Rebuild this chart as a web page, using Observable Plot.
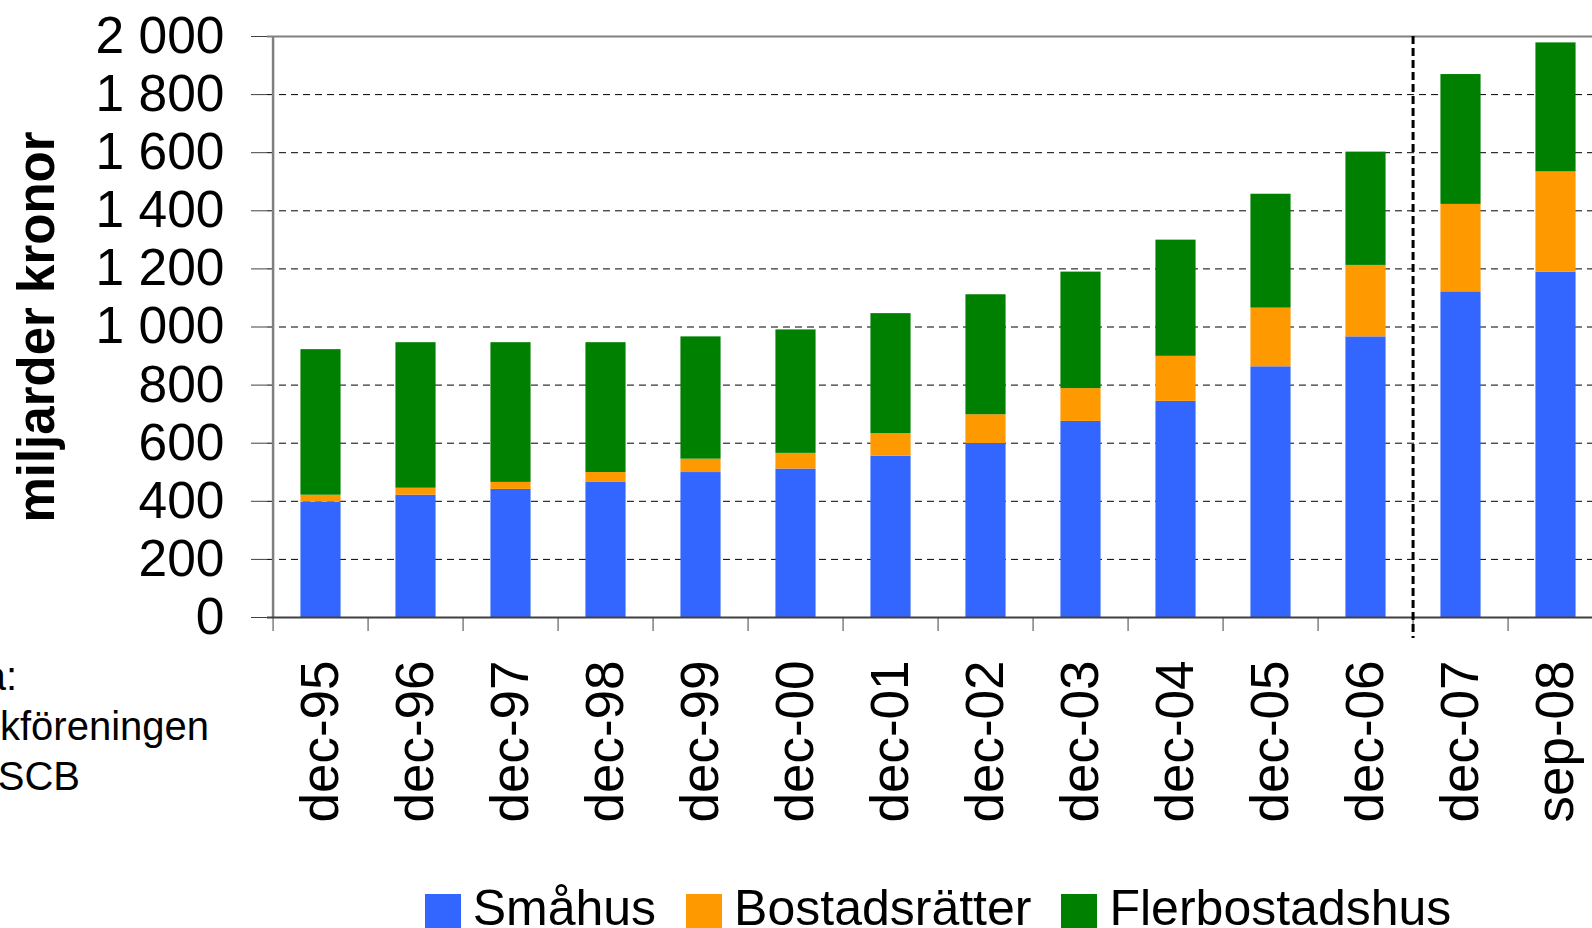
<!DOCTYPE html>
<html>
<head>
<meta charset="utf-8">
<script src="https://cdn.jsdelivr.net/npm/d3@7"></script>
<script src="https://cdn.jsdelivr.net/npm/@observablehq/plot@0.6"></script>
<style>
  html, body { margin: 0; padding: 0; background: #fff; overflow: hidden; width: 1592px; height: 928px; }
  body { font-family: "Liberation Sans", Arial, sans-serif; position: relative; }
  #chart { width: 1609px; }
  #chart svg { display: block; max-width: none !important; }
  #legend { position: absolute; left: 267px; top: 880px; width: 1342px; height: 48px; display: flex; justify-content: center; align-items: flex-start; }
  .item { display: flex; align-items: flex-start; margin: 0 15px; }
  .sw { width: 36px; height: 34px; margin-top: 14px; margin-right: 12px; }
  .lt { font-size: 50px; line-height: 50px; margin-top: 3px; color: #000; white-space: nowrap; }
</style>
</head>
<body>
<div id="chart"></div>
<div id="legend"></div>
<script>
const categories = ["dec-95","dec-96","dec-97","dec-98","dec-99","dec-00","dec-01","dec-02","dec-03","dec-04","dec-05","dec-06","dec-07","sep-08"];
const series = ["Småhus","Bostadsrätter","Flerbostadshus"];
const smahus =         [397, 421, 441, 465, 499, 511, 555, 599, 675, 744, 863, 966, 1121, 1189];
const bostadsratter =  [ 24,  24,  24,  34,  46,  54,  78,  99, 113, 155, 202, 246,  301,  345];
const flerbostadshus = [501, 501, 481, 447, 421, 425, 413, 413, 401, 400, 392, 390,  447,  444];
const colors = ["#3366FF", "#FF9900", "#008000"];
const yTicks = [0, 200, 400, 600, 800, 1000, 1200, 1400, 1600, 1800, 2000];
const yLabel = "miljarder kronor";
const forecastStart = "dec-07";
const sourceLines = ["a:", "kföreningen", "SCB"];

const valuesBySeries = [smahus, bostadsratter, flerbostadshus];
const rows = [];
series.forEach((s, si) => categories.forEach((c, ci) => rows.push({category: c, series: s, value: valuesBySeries[si][ci]})));

const W = 1609, H = 880, ML = 267, MR = 0, MT = 36, MB = 263;
const step = (W - ML - MR) / categories.length;
const inset = (step - 41) / 2;
const fmt = d => d >= 1000 ? d3.format(",")(d).replace(",", " ") : String(d);

const chart = Plot.plot({
  width: W, height: H,
  marginLeft: ML, marginRight: MR, marginTop: MT, marginBottom: MB,
  style: {fontFamily: "'Liberation Sans', Arial, sans-serif", fontSize: "50px", background: "white", color: "#000", maxWidth: "none"},
  x: {type: "band", domain: categories, padding: 0, axis: null},
  y: {domain: [0, 2000], axis: null},
  color: {domain: series, range: colors},
  marks: [
    Plot.gridY(yTicks.filter(d => d > 0 && d < 2000), {stroke: "#000", strokeOpacity: 1, strokeWidth: 1, strokeDasharray: "7,5"}),
    Plot.barY(rows, {x: "category", y: "value", fill: "series", insetLeft: inset, insetRight: inset}),
    Plot.ruleY([2000], {stroke: "#808080", strokeWidth: 2}),
    Plot.ruleX([categories[0]], {dx: -step / 2, stroke: "#808080", strokeWidth: 2.5}),
    Plot.ruleY([0], {stroke: "#404040", strokeWidth: 2}),
    Plot.axisY(yTicks, {tickSize: 16, tickPadding: 27, fontSize: 51.5, tickFormat: fmt, stroke: "#404040", label: null}),
    Plot.axisX({tickSize: 14, tickFormat: () => "", dx: -step / 2, stroke: "#404040", label: null}),
    Plot.axisX({tickSize: 0, tickPadding: 43, tickRotate: -90, fontSize: 53, label: null}),
    Plot.ruleX([forecastStart], {dx: -step / 2, stroke: "#000", strokeWidth: 3, strokeDasharray: "8,4", insetBottom: -21}),
    Plot.text([yLabel], {frameAnchor: "left", textAnchor: "middle", rotate: -90, dx: -230, fontSize: 51, fontWeight: "bold"})
  ]
});
document.getElementById("chart").appendChild(chart);

// cut-off source note at the left edge
const svg = d3.select(chart);
const srcEnds = [17, 209, 80];
const srcBase = [690, 740, 790];
sourceLines.forEach((t, i) => {
  svg.append("text").attr("x", srcEnds[i]).attr("y", srcBase[i])
    .attr("text-anchor", "end").attr("font-size", 40).attr("fill", "#000").text(t);
});

// legend
const legend = document.getElementById("legend");
series.forEach((s, i) => {
  const item = document.createElement("div"); item.className = "item";
  const sw = document.createElement("div"); sw.className = "sw"; sw.style.background = colors[i];
  const lt = document.createElement("div"); lt.className = "lt"; lt.textContent = s;
  item.appendChild(sw); item.appendChild(lt); legend.appendChild(item);
});
</script>
</body>
</html>
